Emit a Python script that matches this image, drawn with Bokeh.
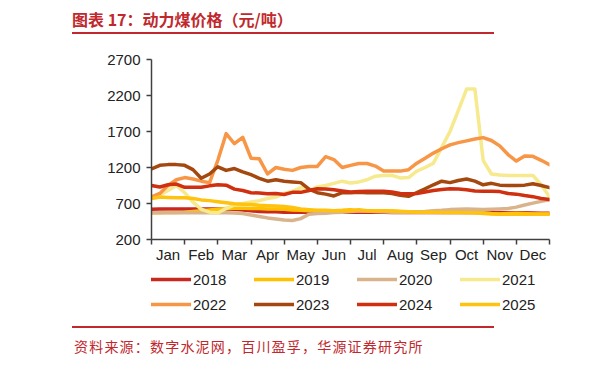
from bokeh.plotting import figure
from bokeh.models import Range1d, FixedTicker, Legend, LegendItem, Div
from bokeh.layouts import column
from bokeh.embed import file_html
from bokeh.resources import INLINE

# ---- data (weekly points, 4 per month, 49 points) ----
months = ["Jan", "Feb", "Mar", "Apr", "May", "Jun", "Jul", "Aug", "Sep", "Oct", "Nov", "Dec"]
weeks = list(range(49))
y_ticks = [200, 700, 1200, 1700, 2200, 2700]

s2018 = [620, 625, 625, 625, 625, 625, 625, 625, 625, 625, 620, 610,
         600, 590, 585, 585, 580, 580, 580, 580, 580, 580, 580, 580,
         580, 578, 578, 578, 578, 575, 575, 575, 575, 575, 575, 575,
         575, 575, 575, 575, 575, 572, 572, 570, 570, 570, 568, 566, 565]
s2019 = [570, 570, 575, 575, 580, 590, 600, 610, 620, 630, 635, 635,
         630, 630, 625, 625, 620, 610, 605, 600, 600, 600, 600, 605,
         615, 600, 600, 600, 600, 595, 590, 585, 585, 585, 580, 580,
         580, 580, 580, 575, 570, 560, 555, 560, 565, 560, 555, 555, 555]
s2020 = [570, 570, 570, 570, 570, 570, 570, 570, 570, 570, 568, 560,
         540, 520, 500, 485, 470, 465, 490, 550, 560, 565, 575, 580,
         590, 595, 595, 590, 585, 580, 580, 580, 585, 590, 600, 605,
         615, 620, 625, 620, 615, 620, 625, 630, 650, 680, 705, 730, 750]
s2021 = [770, 820, 880, 950, 850, 720, 620, 580, 570, 630, 680, 700,
         720, 740, 770, 790, 840, 870, 920, 880, 930, 950, 980, 1010,
         985, 1000, 1030, 1080, 1090, 1090, 1055, 1060, 1150, 1200, 1260, 1480,
         1700, 1990, 2290, 2290, 1300, 1110, 1095, 1090, 1090, 1090, 1090, 960, 790]
s2022 = [790, 840, 950, 1030, 1060, 1040, 1010, 990, 1300, 1670, 1530, 1620,
         1330, 1320, 1110, 1200, 1175, 1160, 1200, 1215, 1215, 1350, 1310, 1200,
         1230, 1255, 1255, 1220, 1150, 1150, 1150, 1170, 1260, 1330, 1400, 1460,
         1515, 1545, 1570, 1595, 1615, 1575, 1500, 1380, 1290, 1360, 1355, 1300, 1240]
s2023 = [1180, 1230, 1240, 1240, 1230, 1170, 1050, 1110, 1210, 1160, 1185, 1140,
         1100, 1050, 1010, 1030, 1010, 1000, 990, 900, 850, 830, 805, 850,
         850, 855, 850, 850, 850, 840, 815, 800, 850, 905, 960, 1010,
         990, 1020, 1040, 1010, 960, 980, 955, 950, 950, 955, 975, 950, 920]
s2024 = [950, 930, 960, 970, 925, 925, 925, 945, 960, 955, 900, 880,
         850, 845, 835, 840, 825, 855, 855, 880, 905, 900, 890, 875,
         860, 865, 870, 870, 870, 860, 840, 835, 840, 860, 880, 895,
         905, 900, 890, 875, 870, 870, 865, 840, 830, 810, 795, 770, 755]
s2025 = [770, 790, 785, 780, 780, 770, 750, 740, 725, 710, 695, 690,
         685, 675, 670, 665, 660, 645, 625, 615, 605, 605, 600, 600,
         600, 615, 600, 600, 600, 595, 590, 585, 580, 580, 580, 575,
         575, 575, 570, 570, 560, 555, 550, 550, 550, 550, 550, 550, 550]

series_names = ["2018", "2019", "2020", "2021", "2022", "2023", "2024", "2025"]
series_values = [s2018, s2019, s2020, s2021, s2022, s2023, s2024, s2025]
series_colors = ["#C8281E", "#FFC000", "#D9B38C", "#F7E98E",
                 "#F79646", "#A5480F", "#D03010", "#FFC20E"]

RED = "#C0282D"
FONT = "Liberation Sans"

title = Div(
    text=('<div style="box-sizing:content-box;margin:0 0 0 72px;padding-top:8px;width:422px;'
          'height:24px;line-height:23px;border-bottom:2px solid %s;color:%s;'
          'font-family:\'Noto Sans CJK SC\';font-size:16px;font-weight:bold;white-space:nowrap;">'
          '图表 17：动力煤价格（元/吨）</div>') % (RED, RED),
    width=614, height=36, margin=(0, 0, 0, 0))

# ---- main chart ----
p = figure(width=614, height=231, x_range=Range1d(0, 48), y_range=Range1d(200, 2700),
           output_backend="svg", toolbar_location=None, margin=(0, 0, 0, 0),
           min_border_left=151, min_border_right=65, min_border_top=23, min_border_bottom=28)
p.outline_line_color = None
p.grid.visible = False
p.background_fill_color = "white"

xa = p.xaxis[0]
xa.ticker = FixedTicker(ticks=[4 * i + 2 for i in range(12)],
                        minor_ticks=[4 * i for i in range(13)])
xa.major_label_overrides = {4 * i + 2: m for i, m in enumerate(months)}
xa.major_tick_out = 0
xa.major_tick_in = 0
xa.minor_tick_out = 5
xa.minor_tick_in = 0
xa.major_label_standoff = 1
ya = p.yaxis[0]
ya.ticker = FixedTicker(ticks=y_ticks)
ya.major_tick_out = 5
ya.major_tick_in = 0
ya.minor_tick_out = 0
ya.minor_tick_in = 0
ya.major_label_standoff = 6
for ax in (xa, ya):
    ax.axis_line_color = "#404040"
    ax.axis_line_width = 1.5
    ax.major_tick_line_color = "#404040"
    ax.major_tick_line_width = 1.5
    ax.minor_tick_line_color = "#404040"
    ax.minor_tick_line_width = 1.5
    ax.major_label_text_font = FONT
    ax.major_label_text_font_size = "15px"
    ax.major_label_text_color = "#222222"

for name, vals, color in zip(series_names, series_values, series_colors):
    p.line(weeks, vals, line_color=color, line_width=3.5,
           line_join="round", line_cap="round")

# ---- legend strip (its own small figure; its y range keeps the series out of view) ----
lf = figure(width=614, height=51, x_range=Range1d(0, 48), y_range=Range1d(10000, 10001),
            x_axis_type=None, y_axis_type=None, output_backend="svg",
            toolbar_location=None, margin=(0, 0, 0, 0),
            min_border_left=151, min_border_right=65, min_border_top=0, min_border_bottom=0)
lf.outline_line_color = None
lf.grid.visible = False
items = []
for name, vals, color in zip(series_names, series_values, series_colors):
    r = lf.line(weeks, vals, line_color=color, line_width=3.5, line_cap="round")
    items.append(LegendItem(label=name, renderers=[r]))
legend = Legend(items=items, location=(0, 4), orientation="horizontal", ncols=4,
                padding=0, margin=0, spacing=5, glyph_width=40, glyph_height=20,
                label_height=20, label_width=56, label_standoff=2,
                label_text_font=FONT, label_text_font_size="15px",
                label_text_color="#222222", border_line_color=None,
                background_fill_alpha=0)
lf.add_layout(legend, "center")

source = Div(
    text=('<div style="box-sizing:content-box;margin:8px 0 0 72px;width:422px;'
          'border-top:2px solid %s;padding-top:7px;height:22px;line-height:22px;color:%s;'
          'font-family:\'Noto Sans CJK SC\';font-size:14px;letter-spacing:1.2px;'
          'white-space:nowrap;">'
          '<span style="margin-left:2px">资料来源：数字水泥网，百川盈孚，华源证券研究所</span></div>') % (RED, RED),
    width=614, height=44, margin=(0, 0, 0, 0))

layout = column(title, p, lf, source, spacing=0)
open("out.html", "w").write(file_html(layout, INLINE))
